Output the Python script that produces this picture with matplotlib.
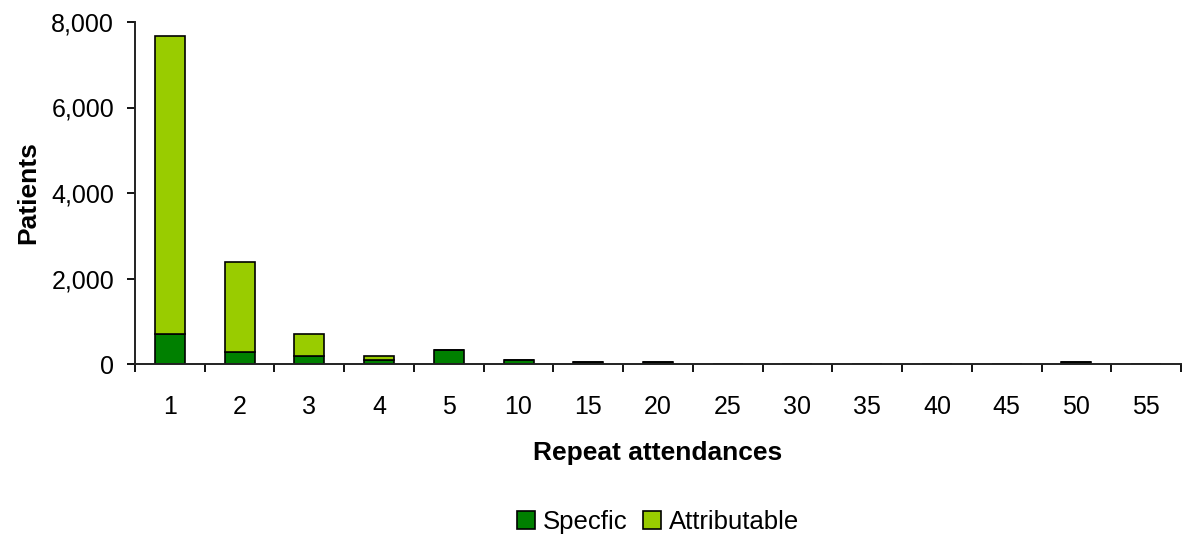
import numpy as np
import matplotlib
matplotlib.use('Agg')
import matplotlib.pyplot as plt
from matplotlib.ticker import FuncFormatter, FixedLocator

plt.rcParams['font.family'] = ['Liberation Sans', 'DejaVu Sans']

# Patients by number of repeat attendances
attendances = ['1', '2', '3', '4', '5', '10', '15', '20', '25', '30', '35', '40', '45', '50', '55']
specific = [700, 280, 190, 90, 330, 90, 50, 50, 0, 0, 0, 0, 0, 50, 0]
attributable = [6980, 2110, 510, 100, 0, 0, 0, 0, 0, 0, 0, 0, 0, 0, 0]

fig = plt.figure(figsize=(11.89, 5.34), dpi=100)
ax = fig.add_axes([135 / 1189, 1 - 364 / 534, (1181 - 135) / 1189, (364 - 22) / 534])

x = np.arange(len(attendances))
w = 0.43
ax.bar(x, specific, w, color='#008000', edgecolor='black', linewidth=1.2, label='Specfic')
ax.bar(x, attributable, w, bottom=specific, color='#99CC00', edgecolor='black',
       linewidth=1.2, label='Attributable')

ax.set_xlim(-0.5, len(attendances) - 0.5)
ax.set_ylim(0, 8000)
ax.set_yticks(range(0, 8001, 2000))
ax.yaxis.set_major_formatter(FuncFormatter(lambda v, p: f'{int(v):,}'))

ax.set_xticks(x)
ax.set_xticklabels(attendances)
ax.xaxis.set_minor_locator(FixedLocator(np.arange(-0.5, len(attendances), 1.0)))
ax.tick_params(axis='x', which='major', length=0, pad=22, labelsize=18)
ax.tick_params(axis='x', which='minor', length=6, width=1.3, direction='out')
ax.tick_params(axis='y', length=6, width=1.3, labelsize=18, pad=9)

for side in ('top', 'right'):
    ax.spines[side].set_visible(False)
for side in ('left', 'bottom'):
    ax.spines[side].set_linewidth(1.4)
    ax.spines[side].set_color('#222222')

ax.set_xlabel('Repeat attendances', fontsize=19, fontweight='bold', labelpad=16)
ax.set_ylabel('Patients', fontsize=19, fontweight='bold', labelpad=8)

ax.legend(loc='lower center', bbox_to_anchor=(0.5, -0.565), ncol=2, frameon=False,
          fontsize=18.5, handlelength=0.7, handleheight=0.7, handletextpad=0.3,
          columnspacing=0.6)

fig.savefig('out.png', dpi=100)
